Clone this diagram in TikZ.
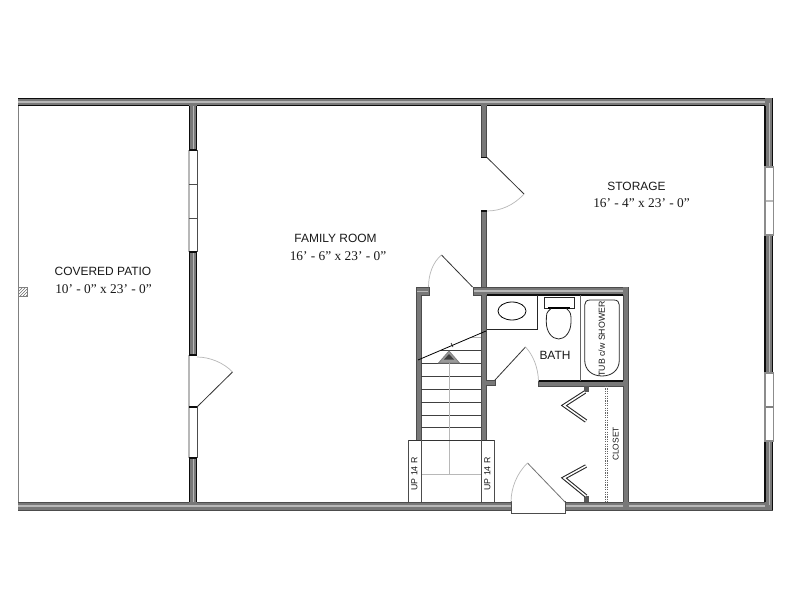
\documentclass[tikz,border=0pt]{standalone}
\usepackage{fontspec}
\setmainfont{Liberation Sans}
\newfontfamily\dimfont{Liberation Serif}
\usetikzlibrary{patterns,shapes.geometric}
\definecolor{wallgrey}{gray}{0.47}
\definecolor{wallstripe}{gray}{0.72}
\definecolor{wallline}{gray}{0.05}
\definecolor{darkwall}{gray}{0.3}
\definecolor{swing}{gray}{0.72}
\definecolor{railgrey}{gray}{0.72}
\tikzset{
  wall/.style={fill=wallgrey,draw=none},
  wedgeline/.style={draw=wallline,line width=1.2bp},
  stripe/.style={draw=wallstripe,line width=1.6bp},
  softedge/.style={draw=darkwall,line width=1bp},
  leaf/.style={draw=black!80,line width=0.8bp},
  arcswing/.style={draw=swing,line width=0.7bp},
  fine/.style={draw=black!85,line width=0.8bp},
  tread/.style={draw=black!75,line width=0.8bp},
  rail/.style={draw=railgrey,line width=1bp},
  pane/.style={fill=white,draw=gray!90,line width=1.2bp},
  roomlabel/.style={font=\fontsize{12}{14}\selectfont,inner sep=0pt,text=black!90},
  smalllabel/.style={font=\fontsize{8.8}{11}\selectfont,inner sep=0pt,text=black!90},
  dimtext/.style={font=\dimfont\fontsize{13.4}{15}\selectfont,inner sep=0pt,text=black!90},
  bifold/.style={line width=3.6bp,draw=black!85,line join=miter,postaction={draw=white,line width=1.5bp}},
  closetdots/.style={draw=black!60,line width=0.8bp,dash pattern=on 1.2bp off 1.2bp},
}
\begin{document}
\begin{tikzpicture}[x=1bp,y=-1bp]
\useasboundingbox (0,0) rectangle (792,612);
\fill[white] (0,0) rectangle (792,612);

% patio outer line
\draw[draw=gray,line width=1bp] (18,106) -- (18,502);
\fill[pattern=north east lines,pattern color=black!70] (18,287) rectangle (27,296);
\draw[draw=gray,line width=0.6bp] (18,287) rectangle (27,296);

% top wall
\fill[wall] (18,98) rectangle (773,106);
\draw[stripe] (18,102) -- (770,102);
\draw[wedgeline] (18,98.5) -- (773,98.5);
\draw[wedgeline] (18,105.5) -- (189,105.5) (197,105.5) -- (481,105.5) (487,105.5) -- (765,105.5);

% bottom wall
\fill[wall] (18,502) rectangle (511,510);
\fill[wall] (565,502) rectangle (773,510);
\draw[stripe] (18,506) -- (511,506) (565,506) -- (770,506);
\draw[softedge] (18,502) -- (189,502) (197,502) -- (511,502) (565,502) -- (623,502) (629,502) -- (765,502);
\draw[softedge] (18,510) -- (511,510) (565,510) -- (773,510);

% right wall
\fill[wall] (765,98) rectangle (772.5,167);
\fill[wall] (765,235) rectangle (772.5,373);
\fill[wall] (765,441) rectangle (772.5,510);
\draw[wedgeline] (765,106) -- (765,167) (765,235) -- (765,373) (765,441) -- (765,502);
\draw[wedgeline] (772.5,98) -- (772.5,167) (772.5,235) -- (772.5,373) (772.5,441) -- (772.5,510);
\draw[draw=wallstripe,line width=1bp] (769,103) -- (769,167) (769,235) -- (769,373) (769,441) -- (769,505);
\draw[pane] (765,167) rectangle (773.5,235);
\draw[pane] (765,373) rectangle (773.5,441);
\draw[draw=wallstripe,line width=1.5bp] (765.5,201) -- (773,201);
\draw[draw=gray,line width=1.2bp] (765.5,407) -- (773,407);

% patio / family wall
\foreach \a/\b in {106/150,252/355,458/502}{
  \fill[wall] (189,\a) rectangle (197,\b);
  \draw[wedgeline] (189.5,\a) -- (189.5,\b) (196.5,\a) -- (196.5,\b);
  \draw[draw=wallstripe,line width=0.8bp] (193,\a) -- (193,\b);
}
% french window
\fill[white] (188,150) rectangle (197,252);
\draw[draw=swing,line width=2bp] (188.5,150) -- (188.5,252);
\draw[draw=black!70,line width=0.8bp] (197,150) -- (197,252);
\draw[wedgeline] (189,150) -- (197,150) (189,252) -- (197,252);
\draw[draw=darkwall,line width=1bp] (189,185) -- (197,185) (189,218) -- (197,218);
% patio door
\fill[white] (188,355) rectangle (197,458);
\draw[draw=swing,line width=2bp] (188.5,355) -- (188.5,458);
\draw[draw=black!70,line width=0.8bp] (197,407) -- (197,458);
\draw[wedgeline] (189,355) -- (197,355) (189,407) -- (197,407) (189,458) -- (197,458);
\coordinate (pdh) at (197,407);
\coordinate (pde) at (232.5,372);
\draw[leaf] (pdh) -- (pde);
\draw[arcswing] (197,357) .. controls (210,357) and (224,363) .. (pde);

% family / storage wall
\foreach \a/\b in {106/157.5,211/441}{
  \fill[wall] (481,\a) rectangle (487,\b);
  \draw[softedge] (481,\a) -- (481,\b) (486.5,\a) -- (486.5,\b);
}
\draw[wedgeline] (481,157.5) -- (487,157.5) (481,211) -- (487,211);
\coordinate (sdh) at (487,157.5);
\coordinate (sde) at (524,194);
\draw[leaf] (sdh) -- (sde);
\draw[arcswing] (487,211) .. controls (501,211) and (514,205) .. (sde);

% stair left wall and top stub
\fill[wall] (416,287) rectangle (421,440);
\fill[wall] (416,287) rectangle (429,295);
\draw[softedge] (416,287) -- (416,440) (421,295) -- (421,440);
\draw[softedge] (416,287) -- (429,287) -- (429,295) -- (421,295);
\draw[draw=wallstripe,line width=0.8bp] (417,291) -- (428,291);
\coordinate (ldh) at (472.5,287);
\coordinate (lde) at (441.5,255);
\draw[leaf] (ldh) -- (lde);
\draw[arcswing] (428.5,287) .. controls (428.5,274) and (433,262) .. (lde);

% bath top wall
\fill[wall] (473,287) rectangle (628.5,295);
\draw[stripe] (473,291) -- (626,291);
\draw[softedge] (473,287) -- (628.5,287);
\draw[softedge] (473,287) -- (473,295) -- (481,295);
\draw[wedgeline] (487,295) -- (623,295);
% bath right wall
\fill[wall] (623,287) rectangle (628.5,510);
\draw[softedge] (623,295) -- (623,381) (623,386) -- (623,502) (628.5,287) -- (628.5,502);
% bath lower wall
\fill[wall] (538.5,381) rectangle (623,386);
\draw[wedgeline] (538.5,381) -- (623,381);
\draw[softedge] (538.5,381) -- (538.5,386) -- (623,386);
\fill[wall] (486,380) rectangle (495,385.5);
\draw[softedge] (486,380) -- (495,380) -- (495,385.5) -- (486,385.5);
\coordinate (bdh) at (495,380);
\coordinate (bde) at (525.5,347);
\draw[leaf] (bdh) -- (bde);
\draw[arcswing] (bde) .. controls (533,355) and (538,367) .. (538.5,381);

% vanity
\draw[fine] (487,329) -- (537.7,329) -- (537.7,295);
\node[draw=black,line width=0.8bp,ellipse,minimum width=28bp,minimum height=18bp,inner sep=0pt] (basin) at (512,311) {};
% toilet
\draw[fine] (544,297.5) rectangle (574,308);
\draw[draw=black,line width=1.4bp] (548,308) -- (570,308);
\draw[fine] (551,308.5) .. controls (546,313) and (546.5,313) .. (546.3,322)
  .. controls (546.3,332) and (552,339) .. (558.7,339)
  .. controls (565,339) and (571,332) .. (571,322)
  .. controls (571,313) and (571,313) .. (566.5,308.5);
% tub
\draw[draw=black!60,line width=0.8bp] (580,295) -- (580,381);
\draw[fine] (590,300) -- (614,300) .. controls (617.5,300) and (619.3,302) .. (619.3,305)
  -- (619.3,360) .. controls (619.3,370) and (612,376) .. (602,376)
  .. controls (592,376) and (584.7,370) .. (584.7,360)
  -- (584.7,305) .. controls (584.7,302) and (586.5,300) .. (590,300) -- cycle;
\node[smalllabel,rotate=90] (tubtext) at (601.7,339) {TUB c/w SHOWER};
\node[roomlabel] (bathtext) at (555,355.5) {BATH};

% stairs
\draw[draw=swing,line width=0.8bp] (471,337.7) -- (481,337.7);
\draw[tread] (441,350) -- (481,350);
\foreach \y in {363.3,376.3,389.5,402.3,415,427.7}{
  \draw[tread] (421,\y) -- (481,\y);
}
\draw[rail] (449,362) -- (449,474);
\draw[rail] (421,474) -- (481,474);
\fill[gray!80] (449,351) -- (459.5,363) -- (438.5,363) -- cycle;
\draw[draw=gray,line width=0.8bp] (449,351) -- (459.5,363) -- (438.5,363) -- cycle;
\fill[black!75] (449,354) -- (454,359.5) -- (444,359.5) -- cycle;
\coordinate (brk1) at (486,331);
\coordinate (brk2) at (418,360);
\draw[draw=black,line width=0.8bp] (brk1) -- (brk2);
\draw[draw=black,line width=0.6bp] (451,343) -- (453,347);

% up flights
\draw[draw=black!80,line width=0.8bp] (408,440) -- (494,440);
\draw[draw=black!70,line width=0.8bp] (408,440) -- (408,502) (421,440) -- (421,502) (481,440) -- (481,502) (494,440) -- (494,502);
\node[smalllabel,rotate=90] (up1) at (414.5,474) {UP 14 R};
\node[smalllabel,rotate=90] (up2) at (487.5,474) {UP 14 R};

% entry door
\fill[white] (511,501) rectangle (565,513.5);
\draw[draw=black!70,line width=0.8bp] (511,501) -- (511,513.5) -- (565,513.5) -- (565,501);
\coordinate (edh) at (565,502);
\coordinate (ede) at (527.5,463);
\draw[draw=black!55,line width=0.8bp] (edh) -- (ede);
\draw[arcswing] (511,502) .. controls (511,488) and (517,473) .. (ede);

% closet
\draw[closetdots] (605.5,386) -- (605.5,502);
\draw[closetdots] (607.5,386) -- (607.5,502);
\fill[black!65] (583.5,386) rectangle (588.5,392);
\fill[black!65] (583.5,496) rectangle (588.5,502);
\draw[bifold] (585,392) -- (564,405.5) -- (586,421);
\draw[bifold] (586,496) -- (564,478) -- (586,466);
\node[smalllabel,rotate=90,font=\fontsize{8.4}{11}\selectfont] (closettext) at (615.7,444) {CLOSET};

% room labels
\node[roomlabel] (patio) at (103,271) {COVERED PATIO};
\node[dimtext] (patiod) at (103.5,289.5) {10’ - 0” x 23’ - 0”};
\node[roomlabel] (family) at (335.5,238) {FAMILY ROOM};
\node[dimtext] (familyd) at (338,256) {16’ - 6” x 23’ - 0”};
\node[roomlabel] (storage) at (636.5,186) {STORAGE};
\node[dimtext] (storaged) at (641.5,203) {16’ - 4” x 23’ - 0”};
\end{tikzpicture}
\end{document}
